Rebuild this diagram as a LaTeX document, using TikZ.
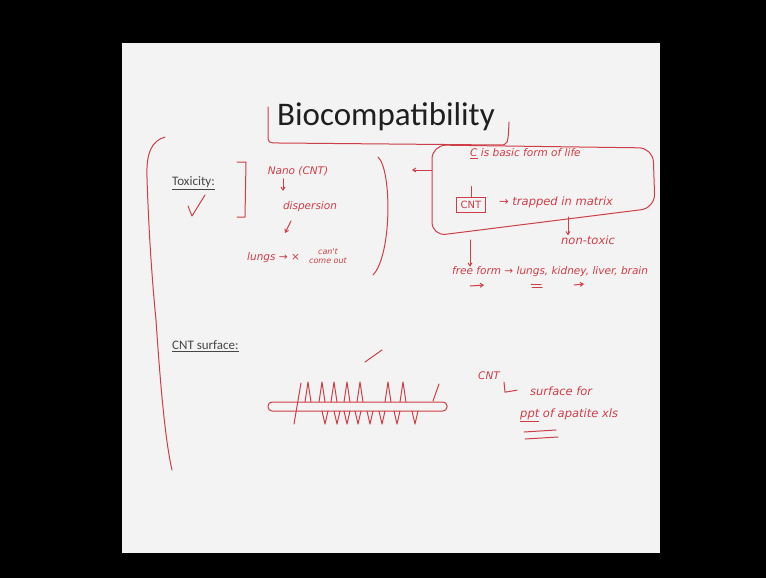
\documentclass[tikz,border=0pt]{standalone}
\usepackage{fontspec}
\newfontfamily\slidefont{Carlito}
\newfontfamily\hwfont{DejaVu Sans}
\usetikzlibrary{arrows.meta}
\definecolor{pen}{RGB}{206,62,72}
\definecolor{slidebg}{RGB}{243,243,243}
\definecolor{slidetxt}{RGB}{70,70,70}
\tikzset{
  hw/.style={draw=pen, line width=1pt, line cap=round, line join=round},
  hwa/.style={hw, -{Straight Barb[length=3pt,width=4pt]}},
  hwtext/.style={text=pen, inner sep=0pt, font=\hwfont\itshape\fontsize{10.5}{12}\selectfont},
  hwbig/.style={hwtext, font=\hwfont\itshape\fontsize{11.5}{13}\selectfont},
  lbl/.style={text=slidetxt, inner sep=0pt, anchor=west, font=\slidefont\fontsize{13}{15}\selectfont},
}
\begin{document}
\begin{tikzpicture}[x=1pt,y=-1pt]
\fill[black] (0,0) rectangle (766,578);
\useasboundingbox (0,0) rectangle (766,578);
\fill[slidebg] (122,43) rectangle (660,553);
% title
\node[text=black!88, inner sep=0pt, font=\slidefont\fontsize{33}{36}\selectfont] (title) at (386,117) {Biocompatibility};
\draw[hw] (268,107) -- (268,134) .. controls (268,143) .. (279,143) -- (499,145) .. controls (508,145) .. (509,122);
% big brace
\draw[hw] (165,137) .. controls (152,141) and (146,152) .. (147,178)
  .. controls (149,240) and (153,290) .. (156,320) .. controls (160,380) and (165,440) .. (172,470);
% labels
\node[lbl] (tox) at (172,183) {\underline{Toxicity:}};
\node[lbl] (cnts) at (172,346) {\underline{CNT surface:}};
\draw[hw] (188,206) -- (192,216) -- (205,195);
% left cluster
\draw[hw] (237,162) -- (246,162) -- (245,217) -- (237,217);
\node[hwtext] (nano) at (298,171) {Nano (CNT)};
\node[hwtext] (disp) at (310,207) {dispersion};
\node[hwtext, anchor=west] (lungs) at (247,258) {lungs → ×};
\node[hwtext, align=center, font=\hwfont\itshape\fontsize{8}{9}\selectfont] (cant) at (328,256) {can't\\come out};
\draw[hwa] (nano.south -| 283,0) ++(0,3) -- ++(0,12);
\draw[hwa] (291,221) -- (285,233);
\draw[hw] (378,157) .. controls (392,170) and (392,255) .. (373,275);
% right box
\draw[hw, rounded corners=14pt] (432,145) -- (653,148) -- (655,208) -- (432,236) -- cycle;
\coordinate (boxw) at (432,170);
\coordinate (parr) at (412,170);
\draw[hwa] (boxw) -- (parr);
\node[hwtext, anchor=west] (cline) at (470,154) {\underline{C} is basic form of life};
\node[hwtext, draw=pen, line width=1pt, inner sep=4pt, font=\hwfont\fontsize{10}{11}\selectfont] (cnt) at (471,205) {CNT};
\draw[hw] (cnt.north) -- ++(0,-10);
\node[hwbig, anchor=west] (trap) at (499,202) {→ trapped in matrix};
\node[hwbig] (nontox) at (588,240) {non-toxic};
\coordinate (d1) at (568,217);
\draw[hwa] (d1) -- (nontox.north -| d1);
\coordinate (d2) at (470,240);
\node[hwtext, anchor=west] (free) at (452,272) {free form → lungs, kidney, liver, brain};
\draw[hwa] (d2) -- (free.north -| d2);
\draw[hwa] (470,286) -- (484,285);
\draw[hw] (531,284) -- (541,284);
\draw[hw] (532,287) -- (542,287);
\draw[hwa] (574,285) -- (584,284);
% CNT surface drawing
\draw[hw] (365,362) -- (382,350);
\draw[hw, rounded corners=4pt] (268,402) rectangle (447,411);
\draw[hw] (294,424) -- (301,383);
\draw[hw] (433,401) -- (439,384);
\foreach \x in {308,322,334,347,360,388,403}{
  \draw[hw] (\x-3,402) -- (\x,382) -- (\x+3,402);
}
\foreach \x in {325,337,347,358,370,382,397,415}{
  \draw[hw] (\x-3,411) -- (\x,424) -- (\x+3,411);
}
\node[hwtext] (cntlbl) at (489,376) {CNT};
\draw[hw] (cntlbl.south east) ++(4,2) -- ++(1,10) -- ++(12,-2);
\node[hwbig, anchor=west] (surf) at (530,391) {surface for};
\node[hwbig, anchor=west] (ppt) at (520,415) {\underline{ppt} of apatite xls};
\draw[hw] (524,432) -- (556,430);
\draw[hw] (525,439) -- (558,437);
\end{tikzpicture}
\end{document}
